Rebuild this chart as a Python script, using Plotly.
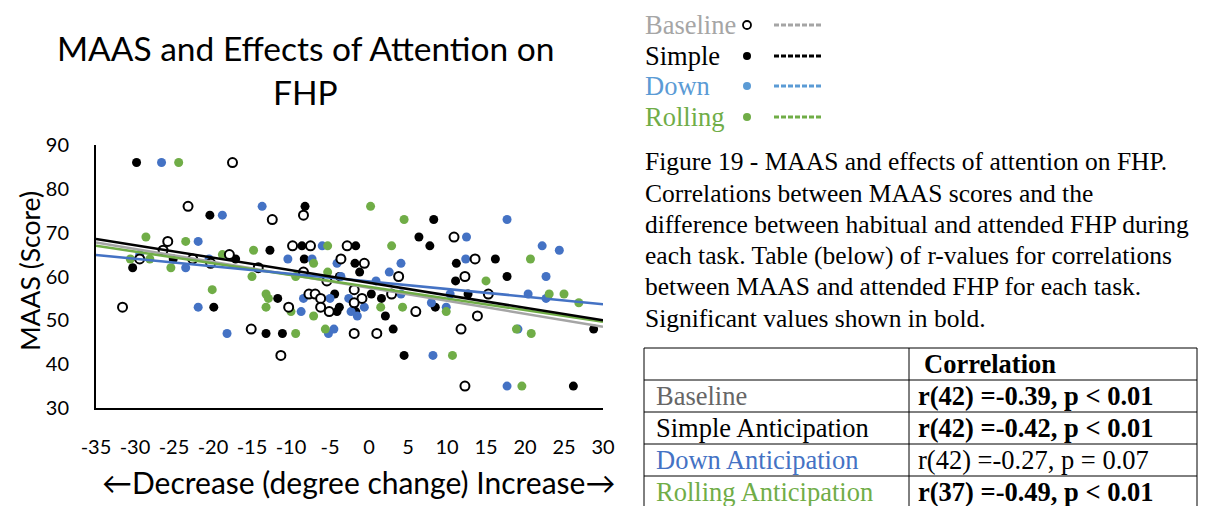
import numpy as np
import plotly.graph_objects as go

W, H = 1215, 506

# ---- scatter data: degree change in FHP (x) vs MAAS score (y) ----
baseline_x = [-17.5, -23.2, -12.4, -8.4, -25.8, -26.4, -9.8, -7.5, -2.8, -3.6,
              -29.4, -22.6, -20.3, -17.9, -14.2, -8.4, -5.4, -7.7, -6.9, -6.2,
              -10.3, -6.2, -5.1, -15.1, -11.3, -31.6, 10.9, -0.6, 3.8, -1.9,
              -0.9, 2.9, -1.9, 6.0, -1.9, 1.0, 11.8, 13.6, 12.3, 15.3,
              13.9, 12.3]
baseline_y = [86, 76, 73, 74, 68, 66, 67, 67, 67, 64,
              64, 64, 63, 65, 62, 61, 59, 56, 56, 55,
              53, 53, 52, 48, 42, 53, 69, 63, 60, 57,
              55, 56, 54, 52, 47, 47, 48, 64, 60, 56,
              51, 35]

simple_x = [-29.8, -20.4, -8.2, -12.7, -8.6, -8.3, -30.3, -25.1, -17.1, -3.8,
            -11.7, -4.4, -19.9, -4.1, -13.2, -11.1, -3.8, 6.4, 7.8, -1.7,
            -1.8, -1.2, 11.2, 11.1, 0.3, 1.6, -1.7, 2.1, 8.5, 3.1,
            4.5, 8.3, 16.2, 17.7, 12.7, 28.8, 26.2]
simple_y = [86, 74, 76, 66, 67, 64, 62, 64, 64, 60,
            55, 56, 53, 52, 47, 47, 53, 69, 67, 67,
            63, 61, 63, 59, 56, 55, 52, 51, 53, 48,
            42, 73, 64, 60, 56, 48, 35]

down_x = [-26.6, -18.8, -13.7, -21.9, -6.0, -10.4, -7.3, -4.1, -29.4, -23.5,
          -20.5, -3.6, -8.4, -5.0, -8.7, -18.2, -5.2, -4.5, -21.9, -2.6,
          -2.3, -1.5, -0.6, 4.1, 2.6, 0.9, 4.1, 8.0, 9.9, 10.4,
          8.2, 17.7, 12.5, 22.2, 24.4, 12.4, 22.7, 20.4, 22.7, 19.1, 17.7]
down_y = [86, 74, 76, 68, 67, 64, 64, 63, 65, 62,
          64, 60, 55, 55, 52, 47, 47, 48, 53, 55,
          52, 51, 53, 63, 61, 59, 56, 54, 53, 56,
          42, 73, 69, 67, 66, 64, 60, 56, 55, 48, 35]

rolling_x = [-24.4, -28.6, -23.5, -14.8, -5.3, -7.1, -30.6, -28.1, -25.4, -18.8,
             -15.0, -9.4, -5.3, -20.1, -13.2, -12.9, -13.2, -10.0, -7.1, -9.4,
             -5.6, 0.2, 4.5, 2.9, 1.5, 4.3, 9.9, 10.7, 20.7, 15.0,
             23.1, 25.0, 26.9, 18.9, 20.8, 19.6]
rolling_y = [86, 69, 68, 66, 67, 63, 64, 64, 62, 65,
             60, 60, 61, 57, 56, 55, 53, 52, 51, 47,
             48, 76, 73, 67, 53, 53, 52, 42, 64, 59,
             56, 56, 54, 48, 47, 35]

x_range = [-35, 30]
y_range = [30, 90]
x_ticks = list(range(-35, 31, 5))
y_ticks = list(range(30, 91, 10))
x_tick_text = [str(v) for v in x_ticks]

legend_names = ["Baseline", "Simple", "Down", "Rolling"]
table_rows = ["Baseline", "Simple Anticipation", "Down Anticipation", "Rolling Anticipation"]
table_vals = ["r(42) =-0.39, p &lt; 0.01", "r(42) =-0.42, p &lt; 0.01",
              "r(42) =-0.27, p = 0.07", "r(37) =-0.49, p &lt; 0.01"]
table_bold = [True, True, False, True]
caption_lines = [
    "Figure 19 - MAAS and effects of attention on FHP.",
    "Correlations between MAAS scores and the",
    "difference between habitual and attended FHP during",
    "each task. Table (below) of r-values for correlations",
    "between MAAS and attended FHP for each task.",
    "Significant values shown in bold.",
]

BLACK = "#000000"
GRAY = "#A5A5A5"
BLUE = "#4472C4"
GREEN = "#70AD47"
SANS = "Lato"
SERIF = "Liberation Serif"


def px(x):
    return x / W


def py(y):
    return 1 - y / H


fig = go.Figure()

# markers
fig.add_trace(go.Scatter(x=simple_x, y=simple_y, mode="markers",
                         marker=dict(size=9, color=BLACK, line=dict(width=0))))
fig.add_trace(go.Scatter(x=down_x, y=down_y, mode="markers",
                         marker=dict(size=9, color=BLUE, line=dict(width=0))))
fig.add_trace(go.Scatter(x=rolling_x, y=rolling_y, mode="markers",
                         marker=dict(size=9, color=GREEN, line=dict(width=0))))
fig.add_trace(go.Scatter(x=baseline_x, y=baseline_y, mode="markers",
                         marker=dict(size=9, color="white", line=dict(width=2, color=BLACK))))

# least-squares trendlines across the full axis span
xs_line = np.array(x_range, dtype=float)
for xs, ys, col in [(baseline_x, baseline_y, GRAY), (rolling_x, rolling_y, GREEN),
                    (down_x, down_y, BLUE), (simple_x, simple_y, BLACK)]:
    m, b = np.polyfit(xs, ys, 1)
    fig.add_trace(go.Scatter(x=xs_line, y=m * xs_line + b, mode="lines",
                             line=dict(color=col, width=2.5), hoverinfo="skip"))

fig.update_layout(
    width=W, height=H,
    margin=dict(l=0, r=0, t=0, b=0),
    paper_bgcolor="white", plot_bgcolor="white",
    showlegend=False,
    xaxis=dict(domain=[px(96), px(603)], range=x_range, tickvals=x_ticks,
               ticktext=x_tick_text,
               showline=True, linecolor=BLACK, linewidth=2, showgrid=False,
               zeroline=False, ticks="", ticklabelstandoff=20, automargin=False,
               tickfont=dict(family=SANS, size=20, color=BLACK)),
    yaxis=dict(domain=[py(408), py(145)], range=y_range, tickvals=y_ticks,
               showline=True, linecolor=BLACK, linewidth=2, showgrid=False,
               zeroline=False, ticks="", ticklabelstandoff=21, automargin=False,
               tickfont=dict(family=SANS, size=20, color=BLACK)),
)

ann = []
shapes = []


def text(x, y, s, size, family=SANS, color=BLACK, anchor="left", angle=0):
    ann.append(dict(x=px(x), y=py(y), xref="paper", yref="paper", text=s,
                    showarrow=False, xanchor=anchor, yanchor="middle",
                    textangle=angle, font=dict(family=family, size=size, color=color)))


# chart titles
text(306, 48, "MAAS and Effects of Attention on", 33.5, anchor="center")
text(306, 92, "FHP", 33.5, anchor="center")
text(30, 271, "MAAS (Score)", 26.5, anchor="center", angle=-90)
text(359, 482, "←Decrease (degree change) Increase→", 30, anchor="center")

# legend block
legend_text_colors = ["#A6A6A6", BLACK, "#5B9BD5", GREEN]
legend_line_colors = [GRAY, BLACK, "#5B9BD5", GREEN]
legend_rows_y = [25, 56, 86, 117]
for i, name in enumerate(legend_names):
    yy = legend_rows_y[i]
    text(643, yy, name, 26.5, family=SERIF, color=legend_text_colors[i])
    r = 4
    if i == 0:
        shapes.append(dict(type="circle", xref="paper", yref="paper",
                           x0=px(747 - r), x1=px(747 + r), y0=py(yy + r), y1=py(yy - r),
                           line=dict(color=BLACK, width=1.8), fillcolor="white"))
    else:
        shapes.append(dict(type="circle", xref="paper", yref="paper",
                           x0=px(747 - r), x1=px(747 + r), y0=py(yy + r), y1=py(yy - r),
                           line=dict(width=0), fillcolor=legend_line_colors[i]))
    shapes.append(dict(type="line", xref="paper", yref="paper",
                       x0=px(774), x1=px(821), y0=py(yy), y1=py(yy),
                       line=dict(color=legend_line_colors[i], width=3, dash="5px,2px")))

# caption
for i, line in enumerate(caption_lines):
    text(643, 162 + i * 31.2, line, 25.5, family=SERIF)

# table
tx0, tx1, tsplit = 644, 1197, 909
row_lines = [348, 380, 412, 444, 476]
for yl in row_lines:
    shapes.append(dict(type="line", xref="paper", yref="paper", x0=px(tx0), x1=px(tx1),
                       y0=py(yl), y1=py(yl), line=dict(color=BLACK, width=1)))
for xl in [tx0, tsplit, tx1]:
    shapes.append(dict(type="line", xref="paper", yref="paper", x0=px(xl), x1=px(xl),
                       y0=py(348), y1=py(510), line=dict(color=BLACK, width=1)))
text(922, 364, "<b>Correlation</b>", 26.5, family=SERIF)
row_colors = ["#666666", BLACK, BLUE, GREEN]
for i, (lab, val) in enumerate(zip(table_rows, table_vals)):
    yc = 396 + i * 32
    text(654, yc, lab, 26.5, family=SERIF, color=row_colors[i])
    text(916, yc, f"<b>{val}</b>" if table_bold[i] else val, 26.5, family=SERIF)

fig.update_layout(annotations=ann, shapes=shapes)
fig.write_html("out.html")
